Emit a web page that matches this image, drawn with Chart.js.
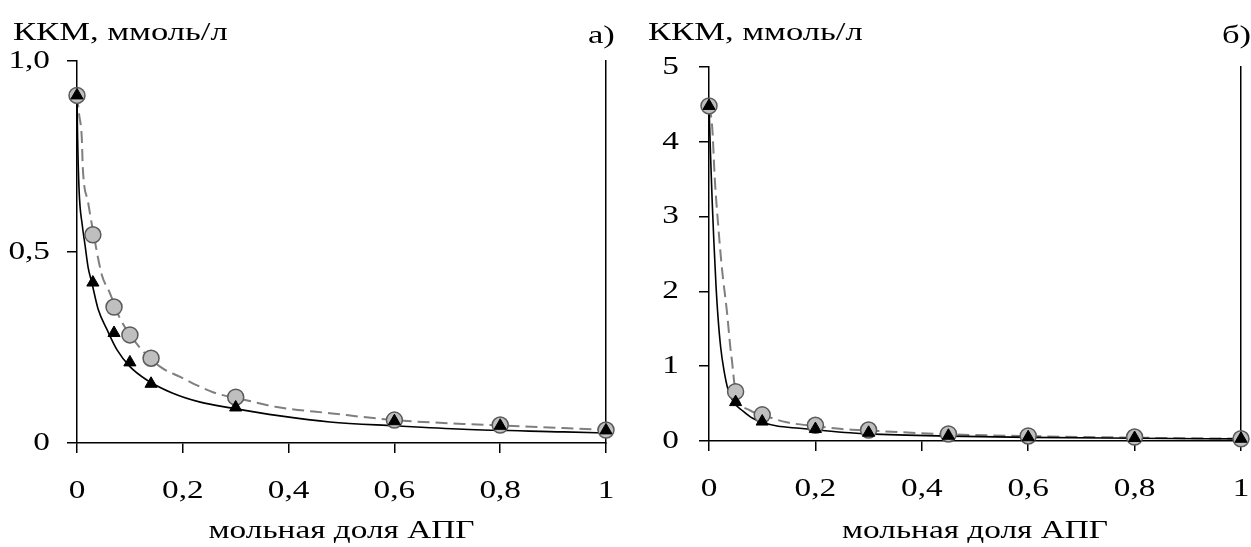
<!DOCTYPE html>
<html lang="ru">
<head>
<meta charset="utf-8">
<title>ККМ — мольная доля АПГ</title>
<script src="https://cdn.jsdelivr.net/npm/chart.js@4/dist/chart.umd.min.js"></script>
<style>
  html, body { margin: 0; padding: 0; background: #fff; }
  #wrap { position: relative; width: 1251px; height: 547px; overflow: hidden;
          font-family: "Liberation Serif", "Times New Roman", serif; color: #000; }
  .panel { position: absolute; top: 0; height: 547px; }
  .lbl { position: absolute; font-size: 26px; line-height: 1; white-space: nowrap;
         transform: scaleX(1.33); transform-origin: 0 0; }
</style>
</head>
<body>
<div id="wrap">
  <div class="panel" style="left:0;width:630px"><canvas id="chartA"></canvas></div>
  <div class="panel" style="left:620px;width:631px"><canvas id="chartB"></canvas></div>
  <div class="lbl" style="left:13px;top:19px">ККМ, ммоль/л</div>
  <div class="lbl" style="left:588px;top:22px">а)</div>
  <div class="lbl" style="left:648px;top:19px">ККМ, ммоль/л</div>
  <div class="lbl" style="left:1222px;top:22px">б)</div>
</div>
<script>
// mole fraction of APG where CMC was measured
const fracA = [0, 0.03, 0.07, 0.1, 0.14, 0.3, 0.6, 0.8, 1];
const fracB = [0, 0.05, 0.1, 0.2, 0.3, 0.45, 0.6, 0.8, 1];

// panel a: measured CMC, mmol/l
const cmcCircA = [0.91, 0.545, 0.356, 0.283, 0.222, 0.12, 0.06, 0.047, 0.034];
const cmcTriA = [0.91, 0.42, 0.288, 0.211, 0.155, 0.093, 0.057, 0.045, 0.033];
// panel a: fitted curves
const fitCircXA = [0, 0.004, 0.009, 0.011, 0.021, 0.03, 0.047, 0.062, 0.081, 0.115, 0.157, 0.195, 0.257, 0.32, 0.378, 0.478, 0.6, 0.73, 0.92, 1];
const fitCircYA = [0.91, 0.86, 0.8, 0.72, 0.63, 0.557, 0.44, 0.393, 0.327, 0.256, 0.2, 0.173, 0.133, 0.112, 0.094, 0.078, 0.06, 0.05, 0.039, 0.034];
const fitTriXA = [0, 0.001, 0.004, 0.01, 0.015, 0.021, 0.028, 0.04, 0.057, 0.076, 0.1, 0.132, 0.18, 0.233, 0.29, 0.384, 0.478, 0.6, 0.73, 0.92, 1];
const fitTriYA = [0.91, 0.81, 0.66, 0.57, 0.52, 0.46, 0.42, 0.35, 0.296, 0.243, 0.2, 0.165, 0.131, 0.107, 0.092, 0.071, 0.055, 0.045, 0.036, 0.029, 0.026];

// panel b: measured CMC, mmol/l
const cmcCircB = [4.48, 0.66, 0.35, 0.21, 0.147, 0.094, 0.067, 0.053, 0.03];
const cmcTriB = [4.48, 0.52, 0.26, 0.16, 0.11, 0.07, 0.05, 0.04, 0.03];
// panel b: fitted curves
const fitCircXB = [0, 0.006, 0.011, 0.017, 0.024, 0.034, 0.04, 0.043, 0.05, 0.077, 0.1, 0.146, 0.2, 0.25, 0.3, 0.45, 0.6, 0.8, 1];
const fitCircYB = [4.48, 4.2, 3.49, 2.91, 2.33, 1.71, 1.26, 1.08, 0.66, 0.41, 0.35, 0.25, 0.2, 0.16, 0.14, 0.09, 0.065, 0.045, 0.03];
const fitTriXB = [0, 0.003, 0.006, 0.009, 0.013, 0.017, 0.022, 0.028, 0.036, 0.046, 0.064, 0.083, 0.1, 0.128, 0.17, 0.2, 0.265, 0.3, 0.45, 0.6, 0.8, 1];
const fitTriYB = [4.48, 3.8, 3.2, 2.69, 2.1, 1.65, 1.25, 0.95, 0.68, 0.52, 0.4, 0.3, 0.25, 0.2, 0.17, 0.15, 0.11, 0.095, 0.065, 0.048, 0.037, 0.028];

const xTickLabels = ['0', '0,2', '0,4', '0,6', '0,8', '1'];
const yTickLabelsA = ['0', '0,5', '1,0'];
const yTickLabelsB = ['0', '1', '2', '3', '4', '5'];
const xTitle = 'мольная доля АПГ';

const FONT = { family: "'Liberation Serif', 'Times New Roman', serif", size: 26 };
const TEXT_STRETCH = 1.28;

const pts = (xs, ys) => xs.map((x, i) => ({ x, y: ys[i] }));

// the axis lettering is set wide: stretch every fillText around its anchor
const wideText = {
  id: 'wideText',
  beforeInit(chart) {
    const ctx = chart.ctx;
    const fill = ctx.fillText.bind(ctx);
    ctx.fillText = (text, x, y, maxWidth) => {
      ctx.save();
      ctx.translate(x, y);
      ctx.scale(TEXT_STRETCH, 1);
      fill(text, 0, 0, maxWidth);
      ctx.restore();
    };
  },
};

function buildDatasets(xs, circ, tri, fcx, fcy, ftx, fty) {
  return [
    {
      data: pts(xs, tri), showLine: false, order: 0, clip: false,
      pointStyle: 'triangle', pointRadius: 7, pointBackgroundColor: '#000',
      pointBorderColor: '#000', pointBorderWidth: 1,
    },
    {
      data: pts(xs, circ), showLine: false, order: 1, clip: false,
      pointStyle: 'circle', pointRadius: 8, pointBackgroundColor: '#bfbfbf',
      pointBorderColor: '#5a5a5a', pointBorderWidth: 1.5,
    },
    {
      data: pts(ftx, fty), showLine: true, order: 2, pointRadius: 0,
      borderColor: '#000', borderWidth: 1.6, cubicInterpolationMode: 'monotone',
    },
    {
      data: pts(fcx, fcy), showLine: true, order: 3, pointRadius: 0,
      borderColor: '#7f7f7f', borderWidth: 2, borderDash: [12, 6],
      cubicInterpolationMode: 'monotone',
    },
  ];
}

// fixed axis boxes so the plot frame lands in the same place on both panels
function fixBox(size, key) {
  return (s) => {
    s[key] = size;
    s.paddingLeft = 0;
    s.paddingRight = 0;
    s.paddingTop = 0;
    s.paddingBottom = 0;
  };
}

function makeChart(canvas, datasets, opts) {
  return new Chart(canvas, {
    type: 'scatter',
    data: { datasets },
    plugins: [wideText],
    options: {
      responsive: true,
      maintainAspectRatio: false,
      animation: false,
      events: [],
      layout: { padding: opts.padding },
      plugins: { legend: { display: false }, tooltip: { enabled: false } },
      scales: {
        x: {
          type: 'linear', min: 0, max: 1,
          afterFit: fixBox(opts.xHeight, 'height'),
          ticks: {
            stepSize: 0.2, color: '#000', font: FONT, padding: 23,
            maxRotation: 0, autoSkip: false,
            callback: (v, i) => xTickLabels[i],
          },
          grid: { drawOnChartArea: false, drawTicks: true, tickLength: 10, tickColor: '#000', lineWidth: 1.5 },
          border: { display: true, color: '#000', width: 1.5 },
          title: { display: true, text: xTitle, color: '#000', font: FONT, padding: { top: 0, bottom: 0 } },
        },
        y: {
          type: 'linear', min: 0, max: opts.yMax,
          afterFit: fixBox(opts.yWidth, 'width'),
          ticks: {
            stepSize: opts.yStep, color: '#000', font: FONT, padding: opts.yPad,
            autoSkip: false, callback: (v, i) => opts.yLabels[i],
          },
          grid: { drawOnChartArea: false, drawTicks: true, tickLength: 10, tickColor: '#000', lineWidth: 1.5 },
          border: { display: true, color: '#000', width: 1.5 },
        },
        // plain right-hand frame line
        yRight: {
          type: 'linear', position: 'right', min: 0, max: opts.yMax,
          afterFit: fixBox(0, 'width'),
          ticks: { display: false },
          grid: { display: false },
          border: { display: true, color: '#000', width: 1.5 },
        },
      },
    },
  });
}

makeChart(document.getElementById('chartA'),
  buildDatasets(fracA, cmcCircA, cmcTriA, fitCircXA, fitCircYA, fitTriXA, fitTriYA),
  { padding: { left: 0, right: 24, top: 61, bottom: 0 }, xHeight: 104, yWidth: 77,
    yMax: 1, yStep: 0.5, yLabels: yTickLabelsA, yPad: 17 });

makeChart(document.getElementById('chartB'),
  buildDatasets(fracB, cmcCircB, cmcTriB, fitCircXB, fitCircYB, fitTriXB, fitTriYB),
  { padding: { left: 0, right: 10, top: 67, bottom: 0 }, xHeight: 106, yWidth: 89,
    yMax: 5, yStep: 1, yLabels: yTickLabelsB, yPad: 20 });
</script>
</body>
</html>
